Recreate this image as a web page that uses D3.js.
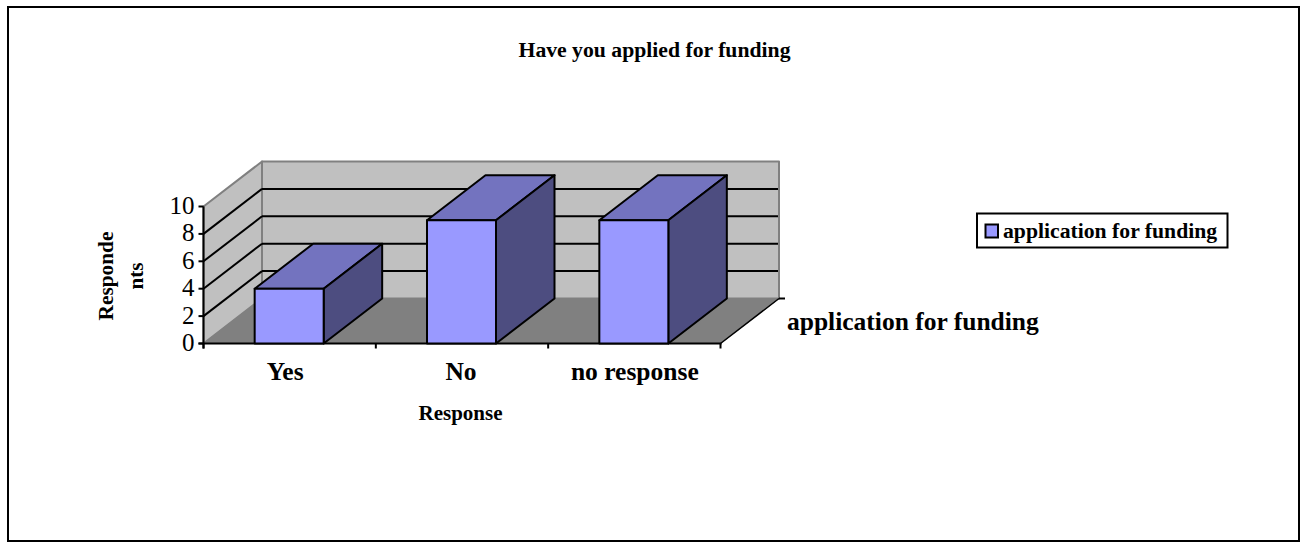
<!DOCTYPE html>
<html><head><meta charset="utf-8">
<script src="https://cdn.jsdelivr.net/npm/d3@7"></script>
<style>html,body{margin:0;padding:0;background:#fff}svg{display:block}text{font-family:"Liberation Serif",serif;fill:#000}</style>
</head><body><svg id="c" width="1301" height="542"></svg>
<script>
const categories = ["Yes","No","no response"];
const values = [4,9,9];
const yTicks = [0,2,4,6,8,10];
const seriesName = "application for funding";
const chartTitle = "Have you applied for funding";
const xTitle = "Response";
const yTitleLines = ["Responde","nts"];

const svg = d3.select("#c");
const y = d3.scaleLinear().domain([0,10]).range([343.5,206.5]);
const x = d3.scaleBand().domain(categories).range([203.5,720.5]).paddingInner(0).paddingOuter(0);
const dx = 58.5, dy = -45;
const barW = 69;
const line = d3.line();
const poly = (pts,fill,stroke,sw)=>svg.append("path").attr("d",line(pts)+"Z").attr("fill",fill)
  .attr("stroke",stroke||"none").attr("stroke-width",sw||0).attr("stroke-linejoin","round");
const seg = (a,b,stroke,sw)=>svg.append("path").attr("d",line([a,b])).attr("stroke",stroke).attr("stroke-width",sw).attr("fill","none");

// frame
svg.append("rect").attr("x",8).attr("y",7).attr("width",1291).attr("height",534)
  .attr("fill","#fff").attr("stroke","#000").attr("stroke-width",2);

const [x0,x1]=x.range(), y0=y(0), yT=y(10);
// walls
poly([[x0,y0],[x0+dx,y0+dy],[x0+dx,yT+dy],[x0,yT]],"#c0c0c0","#808080",2);
poly([[x0+dx,y0+dy],[x1+dx,y0+dy],[x1+dx,yT+dy],[x0+dx,yT+dy]],"#c0c0c0","#808080",2);
// floor
poly([[x0,y0],[x1,y0],[x1+dx,y0+dy],[x0+dx,y0+dy]],"#808080","#808080",1);
// gridlines
yTicks.filter(t=>t>0&&t<10).forEach(t=>{
  seg([x0,y(t)],[x0+dx,y(t)+dy],"#000",2);
  seg([x0+dx,y(t)+dy],[x1+dx-1,y(t)+dy],"#000",2);
});
// floor right edge and series tick
seg([x1,y0],[x1+dx,y0+dy],"#000",1.5);
seg([x1+dx,y0+dy],[x1+dx+6,y0+dy],"#000",2);
// axes
seg([x0,yT],[x0,y0+5],"#000",2);
seg([x0-5,y0],[x1+1,y0],"#000",2);
yTicks.forEach(t=>{
  seg([x0-5,y(t)],[x0,y(t)],"#000",2);
  svg.append("text").attr("x",x0-9).attr("y",y(t)+7.5).attr("text-anchor","end").attr("font-size",25).text(t);
});
[0,1,2,3].forEach(i=>{const tx=x0+i*x.step(); seg([tx,y0],[tx,y0+5],"#000",2);});
// bars
categories.forEach((c,i)=>{
  const l=x(c)+(x.bandwidth()-barW)/2-0.5, r=l+barW, t=y(values[i]);
  poly([[l,t],[r,t],[r+dx,t+dy],[l+dx,t+dy]],"#7373bf","#000",2);
  poly([[r,t],[r+dx,t+dy],[r+dx,y0+dy],[r,y0]],"#4d4d80","#000",2);
  poly([[l,t],[r,t],[r,y0],[l,y0]],"#9999ff","#000",2);
  svg.append("text").attr("x",x(c)+x.bandwidth()/2-(i==0?4.5:i==1?1:-0.5)).attr("y",380)
    .attr("text-anchor","middle").attr("font-size",25.5).attr("font-weight","bold").text(c);
});
// titles
svg.append("text").attr("x",654.5).attr("y",56.5).attr("text-anchor","middle").attr("font-size",21.7).attr("font-weight","bold").text(chartTitle);
svg.append("text").attr("x",460.5).attr("y",420).attr("text-anchor","middle").attr("font-size",21).attr("font-weight","bold").text(xTitle);
yTitleLines.forEach((s,i)=>{
  svg.append("text").attr("transform",`translate(${113+i*30},${276}) rotate(-90)`).attr("text-anchor","middle")
    .attr("font-size",21.3).attr("font-weight","bold").text(s);
});
svg.append("text").attr("x",787).attr("y",330).attr("font-size",25.5).attr("font-weight","bold").text(seriesName);
// legend
svg.append("rect").attr("x",977).attr("y",213.5).attr("width",250.5).attr("height",34).attr("fill","#fff").attr("stroke","#000").attr("stroke-width",2);
svg.append("rect").attr("x",985.5).attr("y",224.5).attr("width",12.5).attr("height",13).attr("fill","#9999ff").attr("stroke","#000").attr("stroke-width",2);
svg.append("text").attr("x",1003).attr("y",238).attr("font-size",21.7).attr("font-weight","bold").text(seriesName);
</script></body></html>
